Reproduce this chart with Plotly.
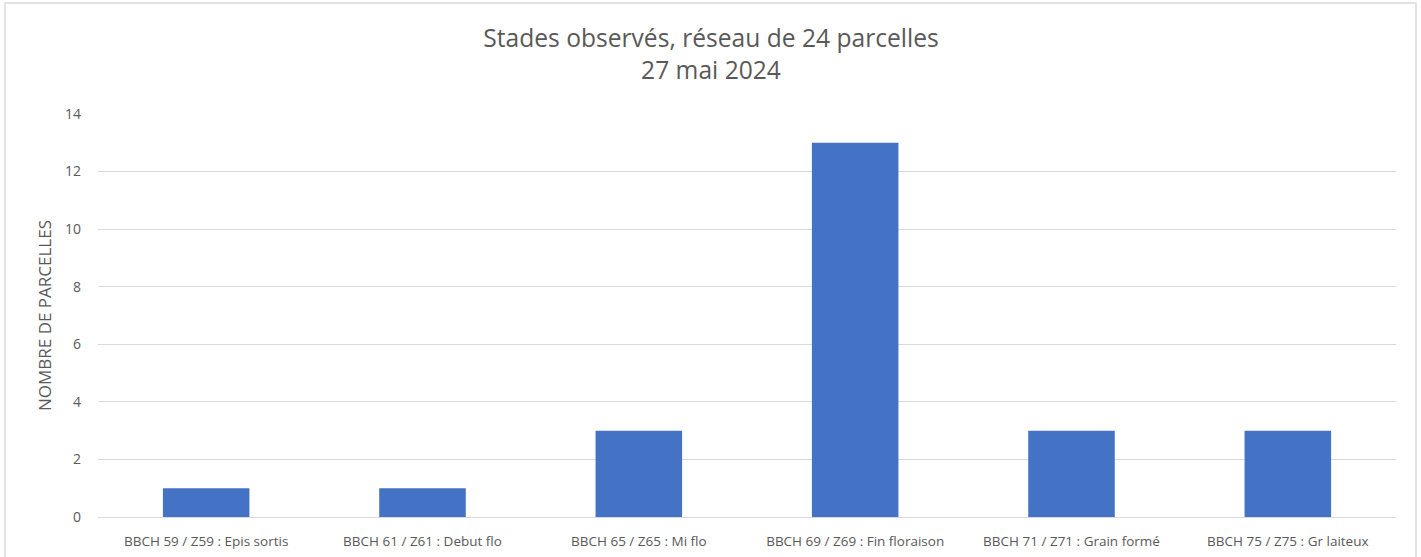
import plotly.graph_objects as go

categories = [
    "BBCH 59 / Z59 : Epis sortis",
    "BBCH 61 / Z61 : Debut flo",
    "BBCH 65 / Z65 : Mi flo",
    "BBCH 69 / Z69 : Fin floraison",
    "BBCH 71 / Z71 : Grain formé",
    "BBCH 75 / Z75 : Gr laiteux",
]
values = [1, 1, 3, 13, 3, 3]
y_ticks = [0, 2, 4, 6, 8, 10, 12, 14]

FONT = "Open Sans, Liberation Sans, sans-serif"
GREY = "#595959"

fig = go.Figure(
    go.Bar(x=categories, y=values, marker=dict(color="#4472C4", line=dict(width=0)))
)

L, R, T, B = 98, 25, 114, 40
W, H = 1421, 557
pw, ph = W - L - R, H - T - B

fig.update_layout(
    width=W, height=H,
    margin=dict(l=L, r=R, t=T, b=B, autoexpand=False),
    paper_bgcolor="white", plot_bgcolor="white",
    bargap=0.6,
    showlegend=False,
    font=dict(family=FONT, color=GREY, size=13),
    title=dict(
        text="Stades observés, réseau de 24 parcelles<br>27 mai 2024",
        x=(711 - L) / pw, xref="paper", xanchor="center",
        y=1 - 47 / H, yanchor="middle",
        font=dict(size=24.6, color=GREY, family=FONT),
    ),
    xaxis=dict(
        showgrid=False, showline=False, ticks="", automargin=False,
        tickfont=dict(size=13.5, color=GREY), ticklabelstandoff=14,
    ),
    yaxis=dict(
        range=[0, 14], tickvals=y_ticks, automargin=False,
        showgrid=True, gridcolor="#d9d9d9", gridwidth=1,
        zeroline=True, zerolinecolor="#d9d9d9", zerolinewidth=1,
        showline=False, ticks="", ticklabelstandoff=16,
        tickfont=dict(size=14, color=GREY),
        title=dict(text="NOMBRE DE PARCELLES", font=dict(size=17, color=GREY), standoff=9),
    ),
    shapes=[dict(
        type="rect", xref="paper", yref="paper",
        x0=(5 - L) / pw, x1=(1416 - L) / pw,
        y0=-0.3, y1=(H - B - 3) / ph,
        line=dict(color="#d9d9d9", width=1.5), fillcolor="rgba(0,0,0,0)", layer="below",
    )],
)

fig.write_html(
    "out.html",
    config={"displayModeBar": False},
    post_script="document.body.style.margin='0';document.body.style.overflow='hidden';",
)
